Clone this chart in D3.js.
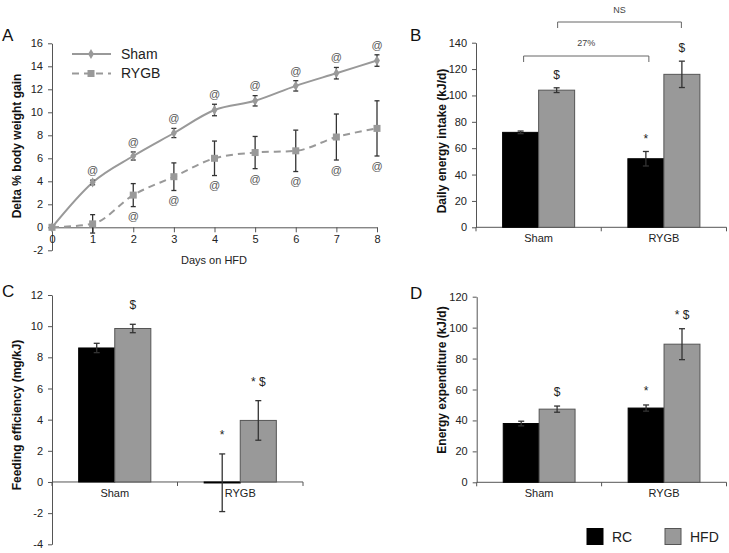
<!DOCTYPE html>
<html><head><meta charset="utf-8">
<script src="https://cdn.jsdelivr.net/npm/d3@7"></script>
<style>
body{margin:0;background:#fff;}
svg{display:block;font-family:"Liberation Sans",Arial,sans-serif;}
</style></head>
<body>
<svg id="c" width="729" height="553"></svg>
<script>
// ---------- DATA ----------
const days = [0,1,2,3,4,5,6,7,8];
const shamGain = [0,3.9,6.2,8.2,10.2,11.0,12.3,13.4,14.5];
const shamGainErr = [0,0.2,0.35,0.4,0.5,0.45,0.45,0.5,0.5];
const rygbGain = [0,0.3,2.8,4.4,6.0,6.5,6.65,7.85,8.6];
const rygbGainErr = [0,0.8,1.0,1.2,1.5,1.4,1.8,2.0,2.4];
const shamAt = [false,true,true,true,true,true,true,true,true];
const rygbAt = [false,false,true,true,true,true,true,true,true];
const yTicksA = [-2,0,2,4,6,8,10,12,14,16];

const groups = ["Sham","RYGB"];
const diets = ["RC","HFD"];

const intakeRC = [72,52];   const intakeRCErr = [1,5.5];
const intakeHFD = [104,116]; const intakeHFDErr = [1.8,10];
const intakeRCMarks = ["","*"]; const intakeHFDMarks = ["$","$"];
const yTicksB = [0,20,40,60,80,100,120,140];

const effRC = [8.6,-0.05];  const effRCErr = [0.3,1.85];
const effHFD = [9.85,3.95]; const effHFDErr = [0.27,1.27];
const effRCMarks = ["","*"]; const effHFDMarks = ["$","* $"];
const yTicksC = [-4,-2,0,2,4,6,8,10,12];

const expRC = [38,48];     const expRCErr = [1.5,2];
const expHFD = [47.3,89.3]; const expHFDErr = [2,10];
const expRCMarks = ["","*"]; const expHFDMarks = ["$","* $"];
const yTicksD = [0,20,40,60,80,100,120];

// ---------- DRAW ----------
const svg = d3.select("#c");
const TXT = "#222", AX = "#555", GRAY = "#999", ERR = "#333";
const fmt = d => String(d);

function styleAxis(g){
  g.selectAll("path.domain").attr("stroke",AX).attr("stroke-width",1);
  g.selectAll(".tick line").attr("stroke",AX);
  g.selectAll(".tick text").attr("fill",TXT).attr("font-size",11)
   .attr("font-family","Liberation Sans, Arial, sans-serif");
}
function errBar(g,x,y1,y2,cap,color){
  g.append("line").attr("x1",x).attr("x2",x).attr("y1",y1).attr("y2",y2).attr("stroke",color).attr("stroke-width",1.3);
  g.append("line").attr("x1",x-cap).attr("x2",x+cap).attr("y1",y1).attr("y2",y1).attr("stroke",color).attr("stroke-width",1.3);
  g.append("line").attr("x1",x-cap).attr("x2",x+cap).attr("y1",y2).attr("y2",y2).attr("stroke",color).attr("stroke-width",1.3);
}
function panelLetter(t,x,y){
  svg.append("text").attr("x",x).attr("y",y).attr("font-size",17).attr("fill","#111").text(t);
}
function yTitle(t,x,y){
  svg.append("text").attr("transform",`translate(${x},${y}) rotate(-90)`).attr("text-anchor","middle")
    .attr("font-size",12).attr("font-weight","bold").attr("fill","#111").text(t);
}

// ---- Panel A ----
(function(){
  const x = d3.scaleLinear().domain([0,8]).range([52,377]);
  const y = d3.scaleLinear().domain([-2,16]).range([250.3,43.3]);
  const g = svg.append("g");
  const gy = g.append("g").attr("transform","translate(52,0)")
    .call(d3.axisLeft(y).tickValues(yTicksA).tickFormat(fmt).tickSize(4).tickPadding(5).tickSizeOuter(0));
  styleAxis(gy);
  const gx = g.append("g").attr("transform",`translate(0,${y(0)})`)
    .call(d3.axisBottom(x).tickValues(days).tickFormat(fmt).tickSize(5).tickPadding(3).tickSizeOuter(0));
  styleAxis(gx);
  g.append("text").attr("x",214).attr("y",264).attr("text-anchor","middle").attr("font-size",11).attr("fill",TXT).text("Days on HFD");
  const line = d3.line().x((d,i)=>x(days[i])).y(d=>y(d)).curve(d3.curveMonotoneX);
  g.append("path").attr("d",line(rygbGain)).attr("fill","none").attr("stroke",GRAY).attr("stroke-width",2).attr("stroke-dasharray","7,5");
  g.append("path").attr("d",line(shamGain)).attr("fill","none").attr("stroke",GRAY).attr("stroke-width",2);
  days.forEach((d,i)=>{
    if(i>0){
      errBar(g,x(d),y(shamGain[i]+shamGainErr[i]),y(shamGain[i]-shamGainErr[i]),2.5,ERR);
      errBar(g,x(d),y(rygbGain[i]+rygbGainErr[i]),y(rygbGain[i]-rygbGainErr[i]),2.5,ERR);
    }
    g.append("rect").attr("x",x(d)-3.5).attr("y",y(rygbGain[i])-3.5).attr("width",7).attr("height",7).attr("fill",GRAY);
    g.append("path").attr("d",d3.symbol(d3.symbolDiamond,30)()).attr("transform",`translate(${x(d)},${y(shamGain[i])})`).attr("fill",GRAY);
    if(shamAt[i]) g.append("text").attr("x",x(d)).attr("y",y(shamGain[i]+shamGainErr[i])-10).attr("dy","0.35em")
        .attr("text-anchor","middle").attr("font-size",11).attr("fill","#555").text("@");
    if(rygbAt[i]) g.append("text").attr("x",x(d)).attr("y",y(rygbGain[i]-rygbGainErr[i])+10).attr("dy","0.35em")
        .attr("text-anchor","middle").attr("font-size",11).attr("fill","#555").text("@");
  });
  // legend
  g.append("line").attr("x1",72).attr("x2",111).attr("y1",54).attr("y2",54).attr("stroke",GRAY).attr("stroke-width",2);
  g.append("path").attr("d",d3.symbol(d3.symbolDiamond,30)()).attr("transform","translate(91,54)").attr("fill",GRAY);
  g.append("text").attr("x",121).attr("y",54).attr("dy","0.35em").attr("font-size",14).attr("fill",TXT).text("Sham");
  g.append("line").attr("x1",72).attr("x2",111).attr("y1",73.5).attr("y2",73.5).attr("stroke",GRAY).attr("stroke-width",2).attr("stroke-dasharray","7,5");
  g.append("rect").attr("x",87.5).attr("y",70).attr("width",7).attr("height",7).attr("fill",GRAY);
  g.append("text").attr("x",121).attr("y",73.5).attr("dy","0.35em").attr("font-size",14).attr("fill",TXT).text("RYGB");
  yTitle("Delta % body weight gain",21,146);
  panelLetter("A",2,41);
})();

// ---- Bar panel helper ----
function barPanel(o){
  const y = d3.scaleLinear().domain(o.ydom).range(o.yr);
  const x0 = d3.scaleBand().domain(groups).range(o.xr).paddingInner(0.425).paddingOuter(0.2125);
  const x1 = d3.scaleBand().domain(diets).range([0,x0.bandwidth()]);
  const g = svg.append("g");
  const gy = g.append("g").attr("transform",`translate(${o.xr[0]},0)`)
    .call(d3.axisLeft(y).tickValues(o.ticks).tickFormat(fmt).tickSize(4).tickPadding(5).tickSizeOuter(0));
  styleAxis(gy);
  const y0 = y(0);
  g.append("line").attr("x1",o.xr[0]).attr("x2",o.xr[1]).attr("y1",y0).attr("y2",y0).attr("stroke",AX);
  const bounds = [o.xr[0], (o.xr[0]+o.xr[1])/2, o.xr[1]];
  bounds.forEach(b=>g.append("line").attr("x1",b).attr("x2",b).attr("y1",y0).attr("y2",y0+4).attr("stroke",AX));
  groups.forEach((grp,i)=>{
    g.append("text").attr("x",x0(grp)+x0.bandwidth()/2).attr("y",y0+15).attr("text-anchor","middle")
      .attr("font-size",11).attr("fill",TXT).text(grp);
    const sets = [[o.rc,o.rcErr,o.rcMarks,"RC"],[o.hfd,o.hfdErr,o.hfdMarks,"HFD"]];
    sets.forEach(([vals,errs,marks,diet])=>{
      const v = vals[i], e = errs[i];
      const bx = x0(grp)+x1(diet), bw = x1.bandwidth();
      const top = Math.min(y(v),y0), h = Math.abs(y(v)-y0);
      g.append("rect").attr("x",bx).attr("y",top).attr("width",bw).attr("height",Math.max(h,1))
        .attr("fill",diet==="RC"?"#000":GRAY).attr("stroke",diet==="RC"?"#000":"#555").attr("stroke-width",1);
      const cx = bx+bw/2;
      errBar(g,cx,y(v+e),y(v-e),3,ERR);
      if(marks[i]) g.append("text").attr("x",cx).attr("y",y(v+e)-o.markOff).attr("dy","0.35em")
        .attr("text-anchor","middle").attr("font-size",12).attr("fill",TXT).text(marks[i]);
    });
  });
  return {x0,x1,y,g};
}

// ---- Panel B ----
(function(){
  const p = barPanel({ydom:[0,140],yr:[227.3,42.7],xr:[476,726.5],ticks:yTicksB,
    rc:intakeRC,rcErr:intakeRCErr,hfd:intakeHFD,hfdErr:intakeHFDErr,
    rcMarks:intakeRCMarks,hfdMarks:intakeHFDMarks,markOff:13});
  const g = p.g;
  const cRC = grp=>p.x0(grp)+p.x1("RC")+p.x1.bandwidth()/2;
  const cHFD = grp=>p.x0(grp)+p.x1("HFD")+p.x1.bandwidth()/2;
  function bracket(xa,xb,yy,label,ly){
    g.append("path").attr("d",`M${xa},${yy+6}V${yy}H${xb}V${yy+6}`).attr("fill","none").attr("stroke","#666").attr("stroke-width",1);
    g.append("text").attr("x",(xa+xb)/2).attr("y",ly).attr("dy","0.35em").attr("text-anchor","middle").attr("font-size",9).attr("fill","#444").text(label);
  }
  bracket(cRC("Sham")+3,cRC("RYGB")+3,56,"27%",43);
  bracket(cHFD("Sham")+1,cHFD("RYGB")-0.5,22,"NS",10);
  yTitle("Daily energy intake (kJ/d)",446,141);
  panelLetter("B",410,41);
})();

// ---- Panel C ----
(function(){
  barPanel({ydom:[-4,12],yr:[544.3,295],xr:[52,303],ticks:yTicksC,
    rc:effRC,rcErr:effRCErr,hfd:effHFD,hfdErr:effHFDErr,
    rcMarks:effRCMarks,hfdMarks:effHFDMarks,markOff:19});
  yTitle("Feeding efficiency (mg/kJ)",21,415);
  panelLetter("C",2,297);
})();

// ---- Panel D ----
(function(){
  barPanel({ydom:[0,120],yr:[482.3,296.7],xr:[476.7,726.5],ticks:yTicksD,
    rc:expRC,rcErr:expRCErr,hfd:expHFD,hfdErr:expHFDErr,
    rcMarks:expRCMarks,hfdMarks:expHFDMarks,markOff:14});
  yTitle("Energy expenditure (kJ/d)",446,380);
  panelLetter("D",410,299);
  const lg = svg.append("g");
  const items = [["RC","#000","#000",587,612],["HFD",GRAY,"#555",665,690]];
  items.forEach(([t,f,s,bx,tx])=>{
    lg.append("rect").attr("x",bx).attr("y",528.5).attr("width",16).attr("height",16).attr("fill",f).attr("stroke",s);
    lg.append("text").attr("x",tx).attr("y",537).attr("dy","0.35em").attr("font-size",14).attr("fill",TXT).text(t);
  });
})();
</script>
</body></html>
